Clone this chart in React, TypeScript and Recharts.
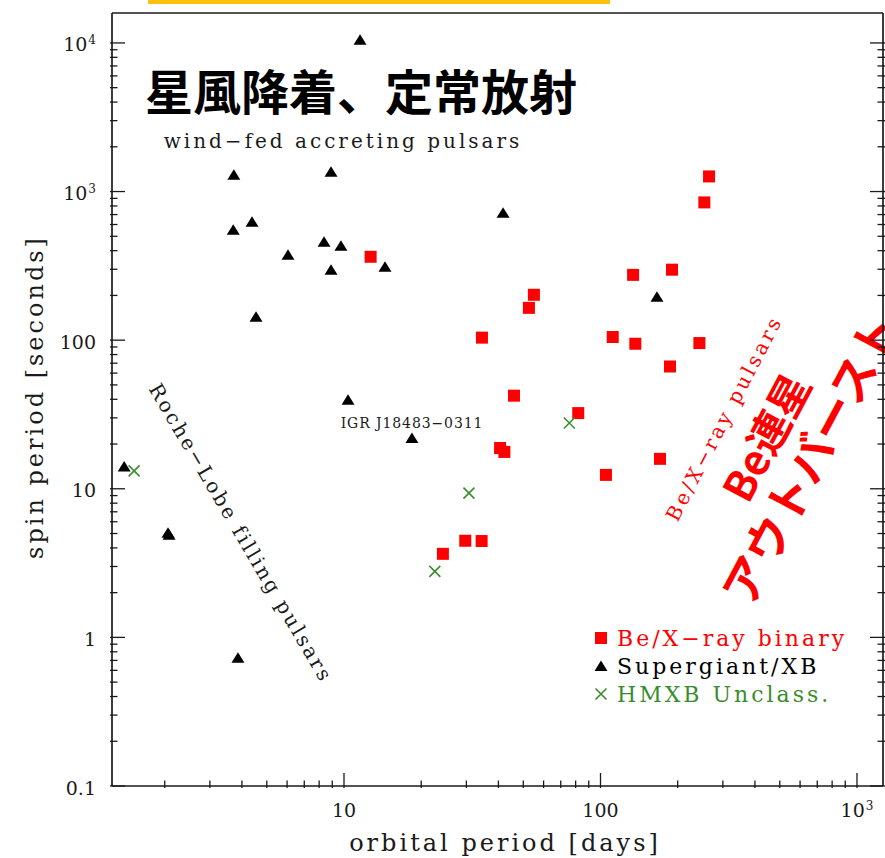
import React from 'react';
import { ScatterChart, Scatter, XAxis, YAxis, Legend } from 'recharts';

// Orbital period (days) vs. spin period (s) for HMXB pulsars
const BE_ORBIT = [12.7, 265, 254, 134, 190, 111.6, 136.7, 243, 186.6, 55.0, 52.6, 34.5, 46.0, 81.9, 40.6, 42.2, 105, 170.6, 29.7, 34.4, 24.3];
const BE_SPIN = [364, 1264, 845, 275, 298, 105, 94.6, 95.6, 66.5, 202, 165, 104, 42.3, 32.3, 18.8, 17.7, 12.4, 15.9, 4.47, 4.45, 3.65];

const SG_ORBIT = [11.55, 3.72, 8.9, 41.7, 3.7, 4.38, 6.05, 8.36, 9.73, 8.9, 14.45, 4.54, 166, 10.37, 18.4, 1.39, 2.06, 2.08, 3.86];
const SG_SPIN = [10500, 1297, 1360, 720, 553, 626, 375, 459, 432, 298, 312, 143.6, 196, 39.7, 22.0, 14.1, 5.06, 4.9, 0.73];

const UN_ORBIT = [1.52, 22.6, 30.7, 75.6];
const UN_SPIN = [13.2, 2.78, 9.35, 27.7];

const X_DOMAIN: [number, number] = [1.246, 1263];
const Y_DOMAIN: [number, number] = [0.1, 15900];

const RED = '#ff0000';
const GREEN = '#3a8d2c';
const INK = '#1a1a1a';
const SERIF = '"DejaVu Serif", serif';
const CJK = '"Noto Sans CJK JP", sans-serif';

// 1..9 x 10^e for every decade, clipped to the axis range
function logTicks(lo: number, hi: number): number[] {
  const out: number[] = [];
  for (let e = -2; e <= 5; e++) {
    for (let m = 1; m <= 9; m++) {
      const v = Number((m * Math.pow(10, e)).toPrecision(6));
      if (v >= lo && v <= hi) out.push(v);
    }
  }
  return out;
}
const X_TICKS = logTicks(X_DOMAIN[0], X_DOMAIN[1]);
const Y_TICKS = logTicks(Y_DOMAIN[0], Y_DOMAIN[1]);

const zip = (xs: number[], ys: number[]) => xs.map((x, i) => ({ x, y: ys[i] }));
const beData = zip(BE_ORBIT, BE_SPIN);
const sgData = zip(SG_ORBIT, SG_SPIN);
const unData = zip(UN_ORBIT, UN_SPIN);

const MAJOR = 15;
const MINOR = 7.5;
const isDecade = (v: number) => Math.abs(Math.log10(v) - Math.round(Math.log10(v))) < 1e-6;

function TickLabel({ v, x, y, anchor }: { v: number; x: number; y: number; anchor: 'middle' | 'end' }) {
  const e = Math.round(Math.log10(v));
  const style = { fontFamily: SERIF, fontSize: 19, fill: INK };
  if (e >= 3) {
    return (
      <text x={x} y={y} textAnchor={anchor} style={style}>
        10
        <tspan dx={1} dy={-7} fontSize={12}>
          {e}
        </tspan>
      </text>
    );
  }
  return (
    <text x={x} y={y} textAnchor={anchor} style={style}>
      {String(v)}
    </text>
  );
}

const BottomTick = (props: any) => {
  const { x, y, payload } = props;
  const major = isDecade(payload.value);
  return (
    <g>
      <line x1={x} x2={x} y1={y} y2={y - (major ? MAJOR : MINOR)} stroke={INK} strokeWidth={1.3} />
      {major && <TickLabel v={payload.value} x={x} y={y + 29} anchor="middle" />}
    </g>
  );
};

const TopTick = (props: any) => {
  const { x, y, payload } = props;
  const major = isDecade(payload.value);
  return <line x1={x} x2={x} y1={y} y2={y + (major ? MAJOR : MINOR)} stroke={INK} strokeWidth={1.3} />;
};

const LeftTick = (props: any) => {
  const { x, y, payload } = props;
  const major = isDecade(payload.value);
  return (
    <g>
      <line x1={x} x2={x + (major ? MAJOR : MINOR)} y1={y} y2={y} stroke={INK} strokeWidth={1.3} />
      {major && <TickLabel v={payload.value} x={x - 14} y={y + 8.5} anchor="end" />}
    </g>
  );
};

const RightTick = (props: any) => {
  const { x, y, payload } = props;
  const major = isDecade(payload.value);
  return <line x1={x} x2={x - (major ? MAJOR : MINOR)} y1={y} y2={y} stroke={INK} strokeWidth={1.3} />;
};

const Square = ({ cx, cy }: any) => <rect x={cx - 6} y={cy - 6} width={12} height={12} fill={RED} />;
const Triangle = ({ cx, cy }: any) => (
  <path d={`M${cx},${cy - 5.5} L${cx + 6.5},${cy + 5} L${cx - 6.5},${cy + 5} Z`} fill="#000" />
);
const Cross = ({ cx, cy }: any) => (
  <path
    d={`M${cx - 5.5},${cy - 5.5} L${cx + 5.5},${cy + 5.5} M${cx + 5.5},${cy - 5.5} L${cx - 5.5},${cy + 5.5}`}
    stroke={GREEN}
    strokeWidth={1.6}
    fill="none"
  />
);

const legendOrder = ['square', 'triangle', 'cross'];
const legendColors: Record<string, string> = { square: RED, triangle: '#000', cross: GREEN };

const LegendBox = ({ payload }: any) => {
  const entries = [...(payload || [])].sort(
    (a: any, b: any) => legendOrder.indexOf(a.type) - legendOrder.indexOf(b.type),
  );
  return (
    <svg width={290} height={90} style={{ display: 'block' }}>
      {entries.map((entry: any, i: number) => {
        const cy = 18 + i * 28;
        const color = legendColors[entry.type] ?? entry.color;
        let marker;
        if (entry.type === 'square') marker = <Square cx={11} cy={cy} />;
        else if (entry.type === 'triangle') marker = <Triangle cx={11} cy={cy} />;
        else marker = <Cross cx={11} cy={cy} />;
        return (
          <g key={entry.value}>
            {marker}
            <text x={27} y={cy + 8} fill={color} style={{ fontFamily: SERIF, fontSize: 22, letterSpacing: 3 }}>
              {entry.value}
            </text>
          </g>
        );
      })}
    </svg>
  );
};

export default function App() {
  const axisLine = { stroke: INK, strokeWidth: 1.7 };
  return (
    <div style={{ position: 'absolute', left: 0, top: 0, background: '#fff' }}>
      <ScatterChart width={885} height={858} margin={{ top: 12, right: 1, bottom: 42, left: 82 }}>
        <XAxis
          dataKey="x"
          type="number"
          scale="log"
          domain={X_DOMAIN}
          allowDataOverflow
          ticks={X_TICKS}
          interval={0}
          tick={<BottomTick />}
          tickLine={false}
          tickSize={0}
          height={30}
          axisLine={axisLine}
        />
        <XAxis
          xAxisId="top"
          orientation="top"
          type="number"
          scale="log"
          domain={X_DOMAIN}
          allowDataOverflow
          ticks={X_TICKS}
          interval={0}
          tick={<TopTick />}
          tickLine={false}
          tickSize={0}
          height={1}
          axisLine={axisLine}
        />
        <YAxis
          dataKey="y"
          type="number"
          scale="log"
          domain={Y_DOMAIN}
          allowDataOverflow
          ticks={Y_TICKS}
          interval={0}
          tick={<LeftTick />}
          tickLine={false}
          tickSize={0}
          width={30}
          axisLine={axisLine}
        />
        <YAxis
          yAxisId="right"
          orientation="right"
          type="number"
          scale="log"
          domain={Y_DOMAIN}
          allowDataOverflow
          ticks={Y_TICKS}
          interval={0}
          tick={<RightTick />}
          tickLine={false}
          tickSize={0}
          width={1}
          axisLine={axisLine}
        />
        <Scatter name="Be/X−ray binary" data={beData} fill={RED} legendType="square" shape={<Square />} isAnimationActive={false} />
        <Scatter name="Supergiant/XB" data={sgData} fill="#000" legendType="triangle" shape={<Triangle />} isAnimationActive={false} />
        <Scatter name="HMXB Unclass." data={unData} fill={GREEN} legendType="cross" shape={<Cross />} isAnimationActive={false} />
        <Legend
          layout="vertical"
          align="center"
          verticalAlign="middle"
          content={<LegendBox />}
          wrapperStyle={{ left: 590, top: 620, width: 290 }}
        />

        {/* axis titles */}
        <text x={505} y={851} textAnchor="middle" style={{ fontFamily: SERIF, fontSize: 24, letterSpacing: 3, fill: INK }}>
          orbital period [days]
        </text>
        <text
          transform="translate(43,397) rotate(-90)"
          textAnchor="middle"
          style={{ fontFamily: SERIF, fontSize: 24, letterSpacing: 3, fill: INK }}
        >
          spin period [seconds]
        </text>

        {/* region annotations */}
        <rect x={148} y={0} width={462} height={4} fill="#fdc010" />
        <text x={145} y={89} dominantBaseline="central" style={{ fontFamily: CJK, fontWeight: 700, fontSize: 48, fill: '#000' }}>
          星風降着、定常放射
        </text>
        <text x={343} y={141} textAnchor="middle" dominantBaseline="central" style={{ fontFamily: SERIF, fontSize: 20, letterSpacing: 3, fill: INK }}>
          wind−fed accreting pulsars
        </text>
        <text
          transform="translate(241,533) rotate(59.6)"
          textAnchor="middle"
          dominantBaseline="central"
          style={{ fontFamily: SERIF, fontSize: 20, letterSpacing: 2.6, fill: INK }}
        >
          Roche−Lobe filling pulsars
        </text>
        <text x={412} y={423} textAnchor="middle" dominantBaseline="central" style={{ fontFamily: SERIF, fontSize: 14, letterSpacing: 0.9, fill: INK }}>
          IGR J18483−0311
        </text>
        <text
          transform="translate(724,418) rotate(-62.5)"
          textAnchor="middle"
          dominantBaseline="central"
          style={{ fontFamily: SERIF, fontSize: 20, letterSpacing: 3.2, fill: RED }}
        >
          Be/X−ray pulsars
        </text>
        <text
          transform="translate(764,436) rotate(-62)"
          textAnchor="middle"
          dominantBaseline="central"
          style={{ fontFamily: CJK, fontWeight: 700, fontSize: 42, fill: RED }}
        >
          Be連星
        </text>
        <text
          transform="translate(808,458) rotate(-62)"
          textAnchor="middle"
          dominantBaseline="central"
          style={{ fontFamily: CJK, fontWeight: 700, fontSize: 46, fill: RED }}
        >
          アウトバースト
        </text>
      </ScatterChart>
    </div>
  );
}
